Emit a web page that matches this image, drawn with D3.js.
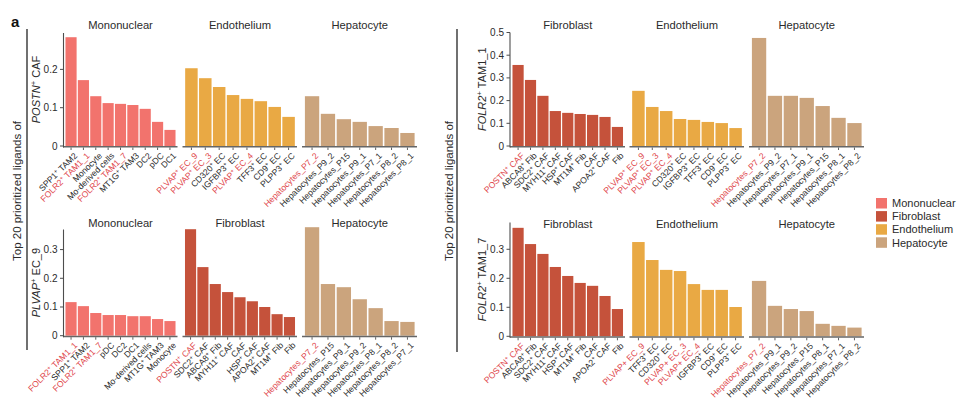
<!DOCTYPE html>
<html><head><meta charset="utf-8">
<script src="https://cdn.jsdelivr.net/npm/d3@7"></script>
<style>
body{margin:0;background:#fff;}
svg{display:block;}
</style></head>
<body>
<svg id="chart" width="977" height="402"></svg>
<script>
// ---------- data ----------
const facetNames = ["Mononuclear", "Fibroblast", "Endothelium", "Hepatocyte"];
const facetColors = ["#F2736D", "#C5523B", "#E9A944", "#CBA47D"];
const highlighted = ["FOLR2^+ TAM1_1", "FOLR2^+ TAM1_7", "PLVAP^+ EC_9", "PLVAP^+ EC_3", "PLVAP^+ EC_4",
  "POSTN^+ CAF", "Hepatocytes_P7_2", "PLVAP+ EC_9", "PLVAP+ EC_3", "PLVAP+ EC_4"];

// POSTN+ CAF receiver
const cafYLabel = "POSTN^+ CAF";
const cafTicks = [0, 0.1, 0.2];
const cafMonoLabels = ["SPP1^+ TAM2", "FOLR2^+ TAM1_1", "Monocyte", "Mo-derived cells", "FOLR2^+ TAM1_7", "MT1G^+ TAM3", "DC2", "pDC", "DC1"];
const cafMonoValues = [0.284, 0.172, 0.130, 0.112, 0.110, 0.107, 0.097, 0.063, 0.042];
const cafEndoLabels = ["PLVAP^+ EC_9", "PLVAP^+ EC_3", "CD320^+ EC", "IGFBP3^+ EC", "PLVAP^+ EC_4", "TFF3^+ EC", "CD9^+ EC", "PLPP3^+ EC"];
const cafEndoValues = [0.203, 0.177, 0.154, 0.133, 0.123, 0.117, 0.102, 0.076];
const cafHepLabels = ["Hepatocytes_P7_2", "Hepatocytes_P9_2", "Hepatocytes_P15", "Hepatocytes_P9_1", "Hepatocytes_P7_1", "Hepatocytes_P8_2", "Hepatocytes_P8_1"];
const cafHepValues = [0.130, 0.084, 0.070, 0.063, 0.052, 0.047, 0.034];

// PLVAP+ EC_9 receiver
const ec9YLabel = "PLVAP^+ EC_9";
const ec9Ticks = [0, 0.1, 0.2, 0.3];
const ec9MonoLabels = ["FOLR2^+ TAM1_1", "SPP1^+ TAM2", "FOLR2^+ TAM1_7", "pDC", "DC2", "DC1", "Mo-derived cells", "MT1G^+ TAM3", "Monocyte"];
const ec9MonoValues = [0.117, 0.103, 0.079, 0.072, 0.072, 0.068, 0.068, 0.058, 0.051];
const ec9FibLabels = ["POSTN^+ CAF", "SDC2^+ CAF", "ABCA8^+ Fib", "MYH11^+ CAF", "CAF", "HSP^+ CAF", "APOA2^+ CAF", "MT1M^+ Fib", "Fib"];
const ec9FibValues = [0.371, 0.239, 0.180, 0.152, 0.134, 0.120, 0.100, 0.075, 0.065];
const ec9HepLabels = ["Hepatocytes_P7_2", "Hepatocytes_P15", "Hepatocytes_P9_1", "Hepatocytes_P9_2", "Hepatocytes_P8_1", "Hepatocytes_P8_2", "Hepatocytes_P7_1"];
const ec9HepValues = [0.378, 0.180, 0.169, 0.127, 0.096, 0.051, 0.048];

// FOLR2+ TAM1_1 receiver
const tam11YLabel = "FOLR2^+ TAM1_1";
const tam11Ticks = [0, 0.1, 0.2, 0.3, 0.4, 0.5];
const tam11FibLabels = ["POSTN^+ CAF", "ABCA8^+ Fib", "SDC2^+ CAF", "MYH11^+ CAF", "HSP^+ CAF", "MT1M^+ Fib", "CAF", "APOA2^+ CAF", "Fib"];
const tam11FibValues = [0.357, 0.291, 0.221, 0.154, 0.146, 0.141, 0.137, 0.128, 0.084];
const tam11EndoLabels = ["PLVAP^+ EC_9", "PLVAP^+ EC_3", "PLVAP^+ EC_4", "CD320^+ EC", "IGFBP3^+ EC", "TFF3^+ EC", "CD9^+ EC", "PLPP3^+ EC"];
const tam11EndoValues = [0.243, 0.172, 0.154, 0.119, 0.115, 0.106, 0.101, 0.079];
const tam11HepLabels = ["Hepatocytes_P7_2", "Hepatocytes_P9_2", "Hepatocytes_P7_1", "Hepatocytes_P9_1", "Hepatocytes_P15", "Hepatocytes_P8_1", "Hepatocytes_P8_2"];
const tam11HepValues = [0.476, 0.221, 0.221, 0.212, 0.176, 0.124, 0.101];

// FOLR2+ TAM1_7 receiver
const tam17YLabel = "FOLR2^+ TAM1_7";
const tam17Ticks = [0, 0.1, 0.2, 0.3];
const tam17FibLabels = ["POSTN^+ CAF", "ABCA8^+ Fib", "SDC2^+ CAF", "MYH11^+ CAF", "HSP^+ CAF", "MT1M^+ Fib", "CAF", "APOA2^+ CAF", "Fib"];
const tam17FibValues = [0.374, 0.318, 0.284, 0.239, 0.208, 0.184, 0.174, 0.139, 0.094];
const tam17EndoLabels = ["PLVAP+ EC_9", "TFF3^+ EC", "CD320^+ EC", "PLVAP+ EC_3", "PLVAP+ EC_4", "IGFBP3^+ EC", "CD9^+ EC", "PLPP3^+ EC"];
const tam17EndoValues = [0.325, 0.263, 0.229, 0.225, 0.180, 0.160, 0.160, 0.101];
const tam17HepLabels = ["Hepatocytes_P7_2", "Hepatocytes_P9_1", "Hepatocytes_P9_2", "Hepatocytes_P15", "Hepatocytes_P8_1", "Hepatocytes_P7_1", "Hepatocytes_P8_2"];
const tam17HepValues = [0.191, 0.105, 0.094, 0.087, 0.043, 0.036, 0.030];

const sideTitle = "Top 20 prioritized ligands of";
const panelLetter = "a";

// ---------- drawing ----------
const FONT = "'Liberation Sans', Arial, sans-serif";
const TXT = "#2b2b2b";
const RED = "#E0474C";
const AXIS = "#4d4d4d";
const svg = d3.select("#chart").style("font-family", FONT);

function colorOf(name) { return facetColors[facetNames.indexOf(name)]; }

function addRich(textSel, label, italicFirst) {
  const parts = label.split("^+");
  textSel.append("tspan").text(parts[0]).attr("font-style", italicFirst && parts.length > 1 ? "italic" : null);
  for (let i = 1; i < parts.length; i++) {
    textSel.append("tspan").text("+").attr("baseline-shift", "super").attr("font-size", "70%");
    textSel.append("tspan").text(parts[i]);
  }
}

const panels = [
  { ax: 63.5, zero: 146, top: 33, ymax: 0.295, ticks: cafTicks, ylabel: cafYLabel, ylabX: 40, titleY: 29,
    facets: [[64, 177], [183.5, 296.5], [303, 416.5]],
    groups: [["Mononuclear", cafMonoLabels, cafMonoValues], ["Endothelium", cafEndoLabels, cafEndoValues], ["Hepatocyte", cafHepLabels, cafHepValues]] },
  { ax: 63.5, zero: 335.7, top: 229.5, ymax: 0.37, ticks: ec9Ticks, ylabel: ec9YLabel, ylabX: 40, titleY: 227,
    facets: [[64, 177], [183.5, 296.5], [303, 416.5]],
    groups: [["Mononuclear", ec9MonoLabels, ec9MonoValues], ["Fibroblast", ec9FibLabels, ec9FibValues], ["Hepatocyte", ec9HepLabels, ec9HepValues]] },
  { ax: 510, zero: 146, top: 32.5, ymax: 0.5, ticks: tam11Ticks, ylabel: tam11YLabel, ylabX: 486, titleY: 29,
    facets: [[511, 624.5], [630.5, 743.5], [750, 863.5]],
    groups: [["Fibroblast", tam11FibLabels, tam11FibValues], ["Endothelium", tam11EndoLabels, tam11EndoValues], ["Hepatocyte", tam11HepLabels, tam11HepValues]] },
  { ax: 510, zero: 336.3, top: 222.6, ymax: 0.392, ticks: tam17Ticks, ylabel: tam17YLabel, ylabX: 486, titleY: 228,
    facets: [[511, 624.5], [630.5, 743.5], [750, 863.5]],
    groups: [["Fibroblast", tam17FibLabels, tam17FibValues], ["Endothelium", tam17EndoLabels, tam17EndoValues], ["Hepatocyte", tam17HepLabels, tam17HepValues]] }
];

panels.forEach(p => {
  const g = svg.append("g");
  const y = d3.scaleLinear().domain([0, p.ymax]).range([p.zero, p.top]);

  p.groups.forEach((grp, gi) => {
    const [name, labels, values] = grp;
    const [fx0, fx1] = p.facets[gi];
    const x = d3.scaleBand().domain(labels).range([fx0, fx1]).paddingInner(0.1).paddingOuter(0.12);
    const fg = g.append("g");
    fg.selectAll("rect.bar").data(labels).join("rect")
      .attr("class", "bar")
      .attr("x", d => x(d))
      .attr("width", x.bandwidth())
      .attr("y", (d, i) => y(values[i]))
      .attr("height", (d, i) => y(0) - y(values[i]))
      .attr("fill", colorOf(name));
    // baseline
    fg.append("line").attr("x1", fx0 - 1).attr("x2", fx1 + 0.5)
      .attr("y1", p.zero + 0.75).attr("y2", p.zero + 0.75)
      .attr("stroke", "#666").attr("stroke-width", 1.6);
    // ticks
    fg.selectAll("line.tk").data(labels).join("line").attr("class", "tk")
      .attr("x1", d => x(d) + x.bandwidth() / 2).attr("x2", d => x(d) + x.bandwidth() / 2)
      .attr("y1", p.zero + 1.5).attr("y2", p.zero + 4)
      .attr("stroke", AXIS).attr("stroke-width", 0.9);
    // category labels
    labels.forEach(lab => {
      const cx = x(lab) + x.bandwidth() / 2;
      const t = fg.append("text")
        .attr("transform", `translate(${cx + 2.5},${p.zero + 6}) rotate(-45)`)
        .attr("text-anchor", "end")
        .attr("dy", "0.7em")
        .attr("font-size", 8.6)
        .attr("fill", highlighted.includes(lab) ? RED : TXT);
      addRich(t, lab, false);
    });
    // facet title
    fg.append("text").attr("x", (fx0 + fx1) / 2).attr("y", p.titleY)
      .attr("text-anchor", "middle").attr("font-size", 11.2).attr("fill", TXT).text(name);
  });

  // y axis
  g.append("line").attr("x1", p.ax).attr("x2", p.ax).attr("y1", p.top).attr("y2", p.zero + 1.5)
    .attr("stroke", AXIS).attr("stroke-width", 1.1);
  p.ticks.forEach(t => {
    g.append("line").attr("x1", p.ax - 3.5).attr("x2", p.ax).attr("y1", y(t)).attr("y2", y(t))
      .attr("stroke", AXIS).attr("stroke-width", 1);
    g.append("text").attr("x", p.ax - 6).attr("y", y(t)).attr("dy", "0.35em")
      .attr("text-anchor", "end").attr("font-size", 10).attr("fill", TXT).text(t === 0 ? "0" : String(t));
  });
  // y label
  const yl = g.append("text")
    .attr("transform", `translate(${p.ylabX},${(p.top + p.zero) / 2}) rotate(-90)`)
    .attr("text-anchor", "middle").attr("font-size", 11).attr("fill", TXT);
  addRich(yl, p.ylabel, true);
});

// side titles and bracket lines
[[20.5, 27, 29, 350], [452.5, 457, 29, 352]].forEach(([tx, lx, ly0, ly1]) => {
  svg.append("text").attr("transform", `translate(${tx},191) rotate(-90)`)
    .attr("text-anchor", "middle").attr("font-size", 11.5).attr("fill", TXT).text(sideTitle);
  svg.append("line").attr("x1", lx).attr("x2", lx).attr("y1", ly0).attr("y2", ly1)
    .attr("stroke", "#111").attr("stroke-width", 1.2);
});

// panel letter
svg.append("text").attr("x", 11).attr("y", 27).attr("font-size", 15).attr("font-weight", "bold")
  .attr("fill", "#111").text(panelLetter);

// legend
const lg = svg.append("g").attr("transform", "translate(876,198)");
facetNames.forEach((n, i) => {
  lg.append("rect").attr("x", 0).attr("y", i * 13.1).attr("width", 11).attr("height", 10.5).attr("fill", facetColors[i]);
  lg.append("text").attr("x", 16).attr("y", i * 13.1 + 5.3).attr("dy", "0.36em")
    .attr("font-size", 11).attr("fill", TXT).text(n);
});
</script>
</body></html>
